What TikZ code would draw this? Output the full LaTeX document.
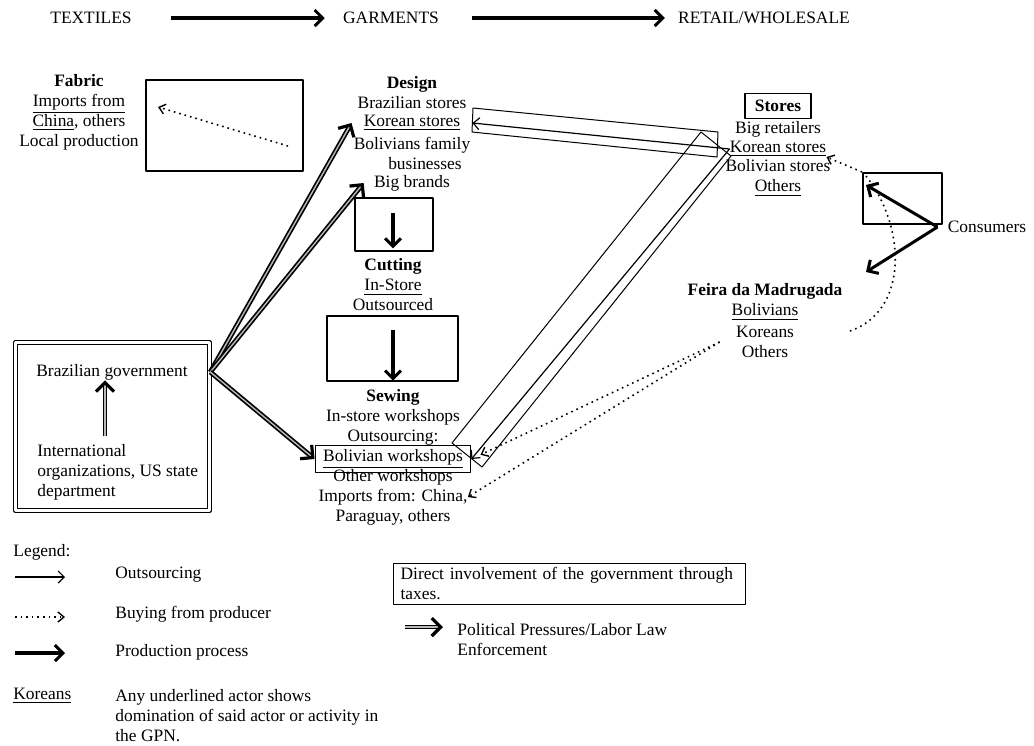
\documentclass[tikz,border=0pt]{standalone}
\usepackage{fontspec}
\setmainfont{Liberation Serif}
\usepackage{tikz}
\usetikzlibrary{arrows.meta}

\tikzset{
  lbl/.style={font=\fontsize{8.7}{10}\selectfont,inner sep=0pt,align=center},
  prod/.style={line width=1.8pt,-{Straight Barb[length=4pt,width=8pt,line width=1.5pt]}},
  outs/.style={line width=0.6pt,-{Straight Barb[length=3pt,width=6pt,line width=0.6pt]}},
  buy/.style={line width=0.8pt,dotted,-{Straight Barb[length=3pt,width=5pt,line width=0.7pt]}},
  polit/.style={line width=0.85pt,double=gray!55,double distance=0.7pt,-{Straight Barb[length=4.5pt,width=9pt,line width=1.6pt]}},
}

\begin{document}
\begin{tikzpicture}[x=0.5pt,y=-0.5pt,line join=round]
\useasboundingbox (0,0) rectangle (1034,745);
% header
\node[lbl] (textiles) at (91,18) {TEXTILES};
\node[lbl] (garments) at (391,18) {GARMENTS};
\node[lbl] (retail) at (764,18) {RETAIL/WHOLESALE};
\draw[prod,line width=2pt] ([xshift=19.5pt]textiles.east) -- ([xshift=-9pt]garments.west);
\draw[prod,line width=2pt] ([xshift=16.5pt]garments.east) -- ([xshift=-6.5pt]retail.west);
% fabric
\node[lbl] (fabric) at (79,112) {\textbf{Fabric}\\\underline{Imports from}\\\underline{China}, others\\Local production};
\draw[line width=0.6pt] (146,80) rectangle (303,171);
\coordinate (fabfrom) at (288,146);
\coordinate (fabto) at (158,107);
\draw[buy] (fabfrom) -- (fabto);
% design
\node[lbl] (design) at (412,93) {\textbf{Design}\\Brazilian stores};
\node[lbl,inner xsep=6pt] (designkor) at (412,123) {\underline{Korean stores}};
\node[lbl] (designbus) at (412,153) {Bolivians family\\\hspace*{13pt}businesses};
\node[lbl,inner xsep=5pt] (designbig) at (412,183) {Big brands};
% cutting
\node[lbl] (cutting) at (393,285) {\textbf{Cutting}\\\underline{In-Store}\\Outsourced};
\draw[line width=0.6pt] (355,198) rectangle (433,251);
\draw[prod,shorten <=11pt,shorten >=5pt] (cutting.north |- designbig.south) -- (cutting.north);
% sewing
\node[lbl] (sewing) at (393,417) {\textbf{Sewing}\\In-store workshops\\Outsourcing:};
\node[lbl,draw,line width=0.6pt,inner xsep=4pt,inner ysep=2pt] (bolws) at (393,459) {\underline{Bolivian workshops}};
\node[lbl] (sewrest) at (393,497) {Other workshops\\Imports from: China,\\Paraguay, others};
\draw[line width=0.6pt] (327,316) rectangle (458,381);
\draw[prod,shorten <=9pt,shorten >=4pt] (cutting.south) -- (sewing.north);
% government
\node[draw,double,line width=0.8pt,double distance=1.2pt,minimum width=97pt,minimum height=84pt] (gov) at (112.5,426.5) {};
\node[lbl] (brgov) at (112,372) {Brazilian government};
\node[lbl,align=left,anchor=west] (intl) at (37,472) {International\\organizations, US state\\department};
\draw[polit,shorten <=4pt] (105,0 |- intl.north) -- (105,0 |- brgov.south);
\draw[polit] (brgov -| gov.east) -- (designkor.west);
\draw[polit] (brgov -| gov.east) -- (designbig.west);
\draw[polit] (brgov -| gov.east) -- (bolws.west);
% stores
\node[lbl,draw,line width=0.6pt,inner xsep=5pt,inner ysep=3.5pt] (stores) at (778,106) {\textbf{Stores}};
\node[lbl] (storesbig) at (778,129) {Big retailers};
\node[lbl] (storeskor) at (778,149) {\underline{Korean stores}};
\node[lbl] (storesrest) at (778,178) {Bolivian stores\\\underline{Others}};
% taxes
\draw[line width=0.5pt] (473,108) -- (718,132) -- (717,157) -- (472,132) -- cycle;
\draw[line width=0.5pt] (701,132) -- (731,156) -- (482,467) -- (452,443) -- cycle;
\draw[outs] (storeskor.west) -- (designkor.east);
\draw[outs] (storeskor.west) -- (bolws.east);
% consumers
\draw[line width=0.6pt] (863,173) rectangle (942,224);
\node[lbl,inner xsep=5pt] (consumers) at (987,227) {Consumers};
\coordinate (cstores) at (866,185);
\coordinate (cfeira) at (866,272);
\coordinate (cbuy) at (862,172);
\draw[prod,line width=1.5pt] (consumers.west) -- (cstores);
\draw[prod,line width=1.5pt] (consumers.west) -- (cfeira);
\draw[buy] (cbuy) -- ([yshift=-4pt]storeskor.east);
\draw[dotted,line width=0.8pt] (866,176) .. controls (905,225) and (910,310) .. (850,331);
% feira
\node[lbl] (feira) at (765,302) {\textbf{Feira da Madrugada}\\\underline{Bolivians}};
\node[lbl,inner xsep=8pt] (feirarest) at (765,342) {Koreans\\Others};
\draw[buy,shorten >=5pt] (feirarest.west) -- (bolws.east);
\draw[buy] (feirarest.west) -- (sewrest.east);
% legend
\node[lbl,anchor=west] (legend) at (13,552) {Legend:};
\draw[outs] (15,577) -- (65,577);
\node[lbl,anchor=west] (louts) at (115,575) {Outsourcing};
\draw[buy] (15,617) -- (65,617);
\node[lbl,anchor=west] (lbuy) at (115,614) {Buying from producer};
\draw[prod] (15,653) -- (65,653);
\node[lbl,anchor=west] (lprod) at (115,652) {Production process};
\node[lbl,anchor=west] (lkor) at (13,696) {\underline{Koreans}};
\node[lbl,anchor=west,align=left] (lund) at (115,716) {Any underlined actor shows\\domination of said actor or activity in\\the GPN.};
\node[lbl,draw,line width=0.6pt,anchor=north west,align=left,text width=169pt,inner xsep=3.5pt,inner ysep=2pt] (taxes) at (393,563) {Direct involvement of the government through\\taxes.};
\draw[polit] (405,627) -- (443,627);
\node[lbl,anchor=west,align=left] (lpolit) at (457,640) {Political Pressures/Labor Law\\Enforcement};
\end{tikzpicture}
\end{document}
